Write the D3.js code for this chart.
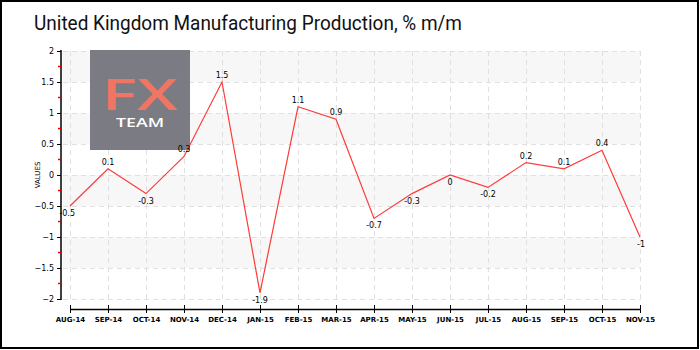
<!DOCTYPE html>
<html>
<head>
<meta charset="utf-8">
<script src="https://cdn.jsdelivr.net/npm/d3@7"></script>
<style>
  body { margin: 0; background: #fff; }
  svg { display: block; }
</style>
</head>
<body>
<svg id="chart" width="700" height="350"></svg>
<script>
// months on the x axis
var months = ["AUG-14", "SEP-14", "OCT-14", "NOV-14", "DEC-14", "JAN-15", "FEB-15", "MAR-15",
              "APR-15", "MAY-15", "JUN-15", "JUL-15", "AUG-15", "SEP-15", "OCT-15", "NOV-15"];
// % m/m change
var values = [-0.5, 0.1, -0.3, 0.3, 1.5, -1.9, 1.1, 0.9, -0.7, -0.3, 0, -0.2, 0.2, 0.1, 0.4, -1];
var yTicks = [-2, -1.5, -1, -0.5, 0, 0.5, 1, 1.5, 2];
var yMinorTicks = [-1.75, -1.25, -0.75, -0.25, 0.25, 0.75, 1.25, 1.75];
var bands = [[1.5, 2], [0.5, 1], [-0.5, 0], [-1.5, -1]];

var svg = d3.select("#chart");
var plotLeft = 70, plotRight = 640, plotTop = 51, plotBottom = 299;
var labelFont = "'DejaVu Sans', sans-serif";

var x = d3.scalePoint().domain(months).range([plotLeft, plotRight]);
var y = d3.scaleLinear().domain([-2, 2]).range([plotBottom, plotTop]);

// frame
svg.append("rect")
  .attr("x", 1).attr("y", 1).attr("width", 697).attr("height", 347)
  .attr("fill", "#fff").attr("stroke", "#000").attr("stroke-width", 2);

// title
svg.append("text")
  .attr("x", 34).attr("y", 30)
  .style("font-family", "Roboto, sans-serif")
  .style("font-weight", 400)
  .style("font-size", "21px")
  .attr("fill", "#111")
  .attr("textLength", 428)
  .attr("lengthAdjust", "spacingAndGlyphs")
  .text("United Kingdom Manufacturing Production, % m/m");

// alternating bands
svg.append("g").selectAll("rect")
  .data(bands)
  .join("rect")
  .attr("x", 63)
  .attr("width", plotRight - 63)
  .attr("y", d => y(d[1]))
  .attr("height", d => y(d[0]) - y(d[1]))
  .attr("fill", "#f7f7f7");

// grid
var grid = svg.append("g")
  .attr("stroke", "#e0e0e0")
  .attr("stroke-dasharray", "5,4")
  .attr("stroke-width", 1);
grid.selectAll(".h")
  .data(yTicks)
  .join("line")
  .attr("class", "h")
  .attr("x1", 63).attr("x2", plotRight + 0.5)
  .attr("y1", d => Math.round(y(d)) + 0.5)
  .attr("y2", d => Math.round(y(d)) + 0.5);
grid.selectAll(".v")
  .data(months)
  .join("line")
  .attr("class", "v")
  .attr("x1", d => Math.round(x(d)) + 0.5)
  .attr("x2", d => Math.round(x(d)) + 0.5)
  .attr("y1", plotTop).attr("y2", plotBottom);

// logo
var logo = svg.append("g");
logo.append("rect")
  .attr("x", 90).attr("y", 50).attr("width", 100).attr("height", 100)
  .attr("fill", "#7b7b83");
logo.append("text")
  .attr("x", 102).attr("y", 110)
  .style("font-family", "'Open Sans', sans-serif")
  .style("font-weight", 600)
  .style("font-size", "44px")
  .attr("fill", "#f07562")
  .attr("textLength", 76)
  .attr("lengthAdjust", "spacingAndGlyphs")
  .text("FX");
logo.append("text")
  .attr("x", 116).attr("y", 127)
  .style("font-family", "'Open Sans', sans-serif")
  .style("font-weight", 600)
  .style("font-size", "12px")
  .attr("fill", "#fff")
  .attr("textLength", 48)
  .attr("lengthAdjust", "spacingAndGlyphs")
  .text("TEAM");

// y axis
var yAxis = svg.append("g")
  .attr("transform", "translate(61,0)")
  .call(d3.axisLeft(y).tickValues(yTicks).tickSize(4).tickPadding(3).tickFormat(d3.format("")));
yAxis.select(".domain")
  .attr("stroke", "#000").attr("stroke-width", 1.5)
  .attr("d", "M0," + (plotTop - 1) + "V" + (plotBottom + 1));
yAxis.selectAll("text")
  .style("font-family", labelFont)
  .style("font-size", "8px");
svg.append("g").selectAll("line")
  .data(yMinorTicks)
  .join("line")
  .attr("x1", 58).attr("x2", 61)
  .attr("y1", d => y(d)).attr("y2", d => y(d))
  .attr("stroke", "#e00").attr("stroke-width", 1.5);

svg.append("text")
  .attr("transform", "translate(40," + y(0) + ") rotate(-90)")
  .attr("text-anchor", "middle")
  .style("font-family", labelFont)
  .style("font-size", "7px")
  .text("VALUES");

// x axis
var xAxis = svg.append("g")
  .attr("transform", "translate(0,309)")
  .call(d3.axisBottom(x).tickSizeInner(4).tickSizeOuter(0).tickPadding(4));
xAxis.select(".domain").attr("stroke", "#000").attr("stroke-width", 1.5);
xAxis.selectAll(".tick line").attr("y1", -4).attr("y2", 4);
xAxis.selectAll("text")
  .style("font-family", labelFont)
  .style("font-size", "7px")
  .style("font-weight", "bold");

// line
var line = d3.line()
  .x((d, i) => x(months[i]))
  .y(d => y(d));
svg.append("path")
  .datum(values)
  .attr("d", line)
  .attr("fill", "none")
  .attr("stroke", "#ff3a3a")
  .attr("stroke-width", 1.2);

// point labels
svg.append("g").selectAll("text")
  .data(values)
  .join("text")
  .attr("x", (d, i) => x(months[i]))
  .attr("y", d => d > 0 ? y(d) - 4 : y(d) + 10)
  .attr("text-anchor", (d, i) => i == 0 ? "end" : (i == months.length - 1 ? "start" : "middle"))
  .attr("dx", (d, i) => i == 0 ? 5 : (i == months.length - 1 ? -3 : 0))
  .style("font-family", labelFont)
  .style("font-size", "8px")
  .text(d => d);
</script>
</body>
</html>
